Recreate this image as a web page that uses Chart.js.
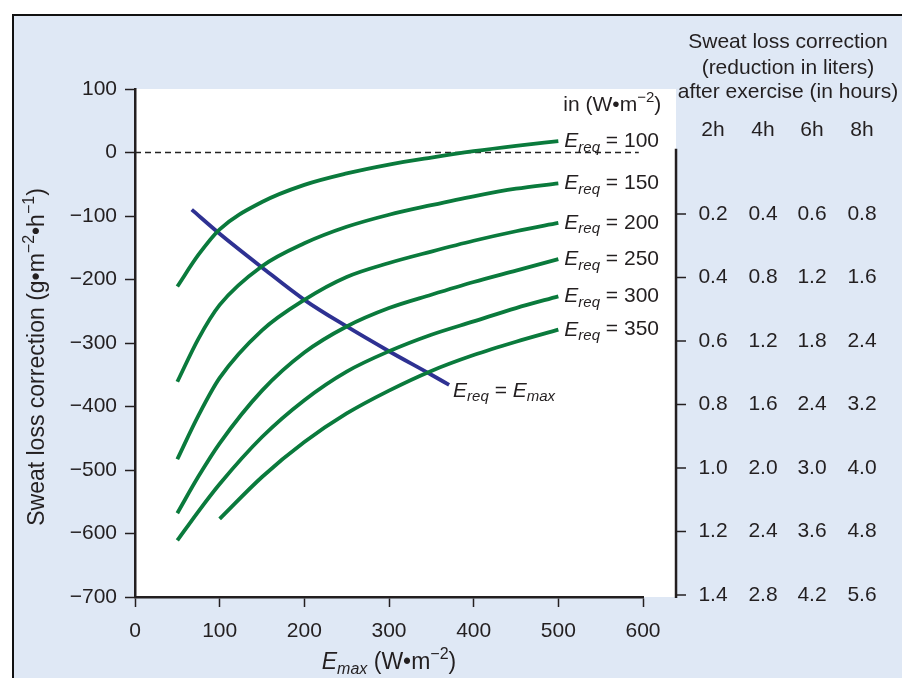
<!DOCTYPE html>
<html>
<head>
<meta charset="utf-8">
<script src="https://cdn.jsdelivr.net/npm/chart.js@4.4.1/dist/chart.umd.min.js"></script>
<style>
  html,body{margin:0;padding:0;background:#fff;}
  canvas{display:block;}
</style>
</head>
<body>
<canvas id="graph" width="902" height="678"></canvas>
<script>
// values
const emaxPts = [50, 75, 100, 150, 200, 250, 300, 350, 400, 450, 500];
const corr100 = [-211, -161, -121, -78, -51, -33, -19, -8, 2, 10.5, 18];
const corr150 = [-361, -293, -240, -179, -143, -117, -98, -83, -69, -57, -48.5];
const corr200 = [-483, -414, -355, -280, -232, -196, -174, -156, -139, -124, -111];
const corr250 = [-568, -510, -458, -375, -315, -274, -245, -224, -204, -186, -168];
const corr300 = [-611, -565, -522, -448, -390, -345, -313, -287, -266, -245, -226.5];
const emax350 = [100, 150, 200, 250, 300, 350, 400, 450, 500];
const corr350 = [-577, -511, -456, -411, -375, -344, -319, -298, -279];
const ereqLabels = ["100", "150", "200", "250", "300", "350"];

const limitX = [67, 100, 150, 200, 250, 300, 350, 371];
const limitY = [-90, -128, -181, -232, -274, -313, -350, -366];

const zeroX = [0, 595];

// right hand table
const hours = ["2h", "4h", "6h", "8h"];
const tableRows = [-100, -200, -300, -400, -500, -600, -700];
const liters2h = ["0.2", "0.4", "0.6", "0.8", "1.0", "1.2", "1.4"];
const liters4h = ["0.4", "0.8", "1.2", "1.6", "2.0", "2.4", "2.8"];
const liters6h = ["0.6", "1.2", "1.8", "2.4", "3.0", "3.6", "4.2"];
const liters8h = ["0.8", "1.6", "2.4", "3.2", "4.0", "4.8", "5.6"];
const literCols = [liters2h, liters4h, liters6h, liters8h];

const FONT = "'Liberation Sans', Arial, Helvetica, sans-serif";
const INK = "#231f20";
const GREEN = "#0a7a3c";
const BLUE = "#2e3192";
const BG = "#dfe8f5";

function pts(xs, ys){
    return xs.map((x,i)=>({x:x, y:ys[i]}));
}

function curve(xs, ys){
    return {
        data: pts(xs, ys),
        borderColor: GREEN,
        borderWidth: 3.8,
        pointRadius: 0,
        cubicInterpolationMode: "monotone",
        borderCapStyle: "butt",
        fill: false
    };
}

// text with italic / subscript / superscript parts
function rich(ctx, parts, x, y, align, size){
    size = size || 21;
    const small = Math.round(size*0.7);
    const fontOf = (st)=>{
        if(st=="i") return "italic " + size + "px " + FONT;
        if(st=="sub") return "italic " + small + "px " + FONT;
        if(st=="sup") return small + "px " + FONT;
        return size + "px " + FONT;
    };
    let w = 0;
    parts.forEach(p=>{
        ctx.font = fontOf(p[1]);
        w += ctx.measureText(p[0]).width;
    });
    let cx = x;
    if(align=="center") cx = x - w/2;
    if(align=="right") cx = x - w;
    ctx.textBaseline = "middle";
    ctx.textAlign = "left";
    ctx.fillStyle = INK;
    parts.forEach(p=>{
        ctx.font = fontOf(p[1]);
        let dy = 0;
        if(p[1]=="sub") dy = size*0.3;
        if(p[1]=="sup") dy = -size*0.35;
        ctx.fillText(p[0], cx, y + dy);
        cx += ctx.measureText(p[0]).width;
    });
}

const backPlugin = {
    id: "back",
    beforeDraw(chart){
        const ctx = chart.ctx;
        const a = chart.chartArea;
        const rightX = chart.scales.x.getPixelForValue(639);
        ctx.save();
        ctx.fillStyle = "#fff";
        ctx.fillRect(0, 0, chart.width, chart.height);
        ctx.fillStyle = BG;
        ctx.fillRect(14, 16, chart.width, chart.height);
        ctx.fillStyle = "#fff";
        ctx.fillRect(a.left, a.top, rightX - a.left, a.bottom - a.top);
        ctx.strokeStyle = "#111";
        ctx.lineWidth = 2;
        ctx.beginPath();
        ctx.moveTo(13, chart.height);
        ctx.lineTo(13, 15);
        ctx.lineTo(chart.width, 15);
        ctx.stroke();
        ctx.restore();
    }
};

const textPlugin = {
    id: "texts",
    afterDraw(chart){
        const ctx = chart.ctx;
        const xs = chart.scales.x, ys = chart.scales.y;
        ctx.save();

        // curve labels
        const ends = [corr100, corr150, corr200, corr250, corr300, corr350];
        ends.forEach((c,i)=>{
            const px = xs.getPixelForValue(500) + 6;
            const py = ys.getPixelForValue(c[c.length-1]);
            rich(ctx, [["E","i"],["req","sub"],[" = " + ereqLabels[i],"n"]], px, py, "left");
        });
        rich(ctx, [["in (W\u2022m","n"],["\u22122","sup"],[")","n"]], xs.getPixelForValue(500) + 5, 105, "left");

        // limit line label
        rich(ctx, [["E","i"],["req","sub"],[" = ","n"],["E","i"],["max","sub"]],
            xs.getPixelForValue(limitX[limitX.length-1]) + 4, ys.getPixelForValue(limitY[limitY.length-1]) + 6, "left");

        // axis titles
        rich(ctx, [["E","i"],["max","sub"],[" (W\u2022m","n"],["\u22122","sup"],[")","n"]], 389, 663, "center", 23);
        ctx.save();
        ctx.translate(38, 357);
        ctx.rotate(-Math.PI/2);
        rich(ctx, [["Sweat loss correction (g\u2022m","n"],["\u22122","sup"],["\u2022h","n"],["\u22121","sup"],[")","n"]], 0, 0, "center", 23);
        ctx.restore();

        // right axis and table
        const ax = xs.getPixelForValue(639);
        ctx.strokeStyle = INK;
        ctx.lineWidth = 2.5;
        ctx.beginPath();
        ctx.moveTo(ax, ys.getPixelForValue(6));
        ctx.lineTo(ax, ys.getPixelForValue(-700) + 1);
        ctx.stroke();
        ctx.lineWidth = 1.5;
        const colX = [713, 763, 812, 862];
        tableRows.forEach((r,i)=>{
            const py = ys.getPixelForValue(r) - 2;
            ctx.beginPath();
            ctx.moveTo(ax, py);
            ctx.lineTo(ax + 10, py);
            ctx.stroke();
            ctx.font = "21px " + FONT;
            ctx.fillStyle = INK;
            ctx.textAlign = "center";
            ctx.textBaseline = "middle";
            literCols.forEach((col,j)=>{
                ctx.fillText(col[i], colX[j], py);
            });
        });
        ctx.font = "21px " + FONT;
        ctx.textAlign = "center";
        ctx.textBaseline = "middle";
        hours.forEach((h,j)=>ctx.fillText(h, colX[j], 130));
        ctx.fillText("Sweat loss correction", 788, 42);
        ctx.fillText("(reduction in liters)", 788, 68);
        ctx.fillText("after exercise (in hours)", 788, 92);

        ctx.restore();
    }
};

const minus = (v)=> v < 0 ? "\u2212" + Math.abs(v) : "" + v;

new Chart("graph", {
    type: "line",
    data: {
        datasets: [
            curve(emaxPts, corr100),
            curve(emaxPts, corr150),
            curve(emaxPts, corr200),
            curve(emaxPts, corr250),
            curve(emaxPts, corr300),
            curve(emax350, corr350),
            {
                data: pts(limitX, limitY),
                borderColor: BLUE,
                borderWidth: 3.8,
                pointRadius: 0,
                cubicInterpolationMode: "monotone",
                borderCapStyle: "butt"
            },
            {
                data: pts(zeroX, [0, 0]),
                borderColor: "#222",
                borderWidth: 1.4,
                borderDash: [6, 4],
                pointRadius: 0
            }
        ]
    },
    options: {
        responsive: false,
        animation: false,
        devicePixelRatio: 1,
        layout: { padding: { top: 89, right: 259, left: 0, bottom: 0 } },
        plugins: {
            legend: { display: false },
            tooltip: { enabled: false }
        },
        scales: {
            x: {
                type: "linear",
                min: 0,
                max: 600,
                afterFit: (s)=>{ s.height = 81; },
                ticks: { stepSize: 100, color: INK, font: { family: FONT, size: 21 }, padding: 12 },
                grid: { drawOnChartArea: false, tickLength: 10, tickColor: INK, tickWidth: 1.5 },
                border: { color: INK, width: 2.5 }
            },
            y: {
                type: "linear",
                min: -700,
                max: 100,
                afterFit: (s)=>{ s.width = 135; },
                ticks: { stepSize: 100, color: INK, font: { family: FONT, size: 21 }, padding: 8, callback: minus },
                grid: { drawOnChartArea: false, tickLength: 10, tickColor: INK, tickWidth: 1.5 },
                border: { color: INK, width: 2.5 }
            }
        }
    },
    plugins: [backPlugin, textPlugin]
});
</script>
</body>
</html>
